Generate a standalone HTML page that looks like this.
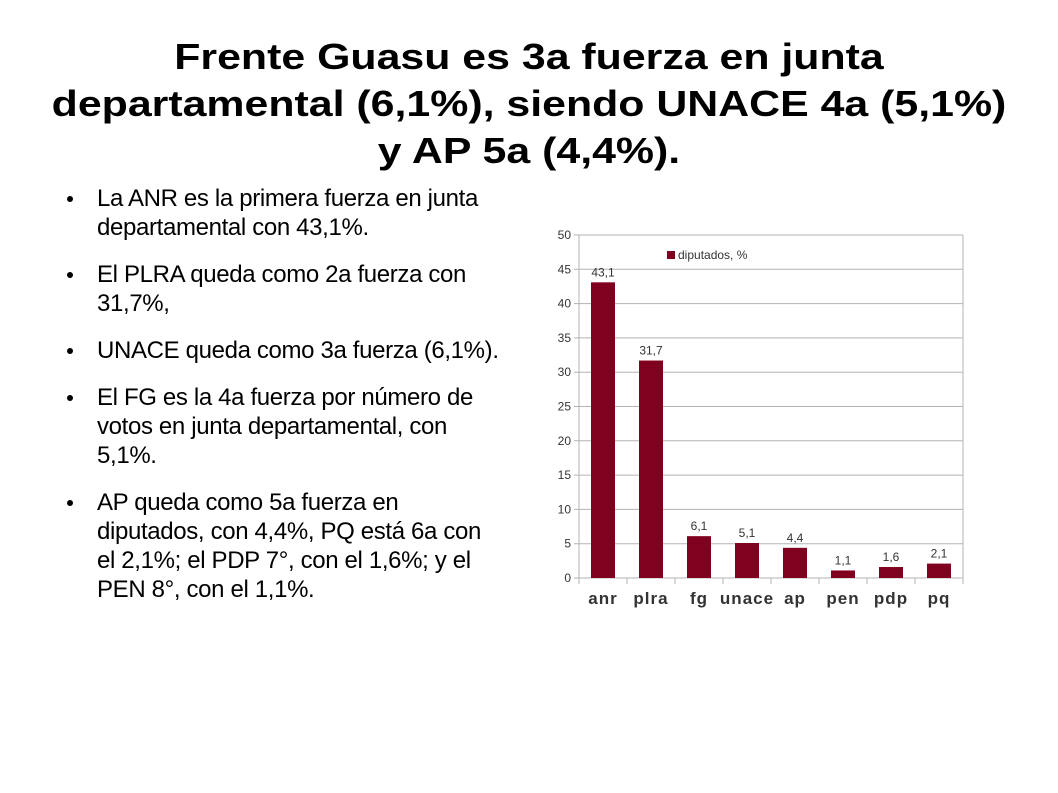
<!DOCTYPE html>
<html><head><meta charset="utf-8"><style>
body{margin:0;width:1058px;height:793px;background:#fff;font-family:"Liberation Sans",sans-serif;overflow:hidden;position:relative}
#title{position:absolute;left:0;top:33px;width:1058px;text-align:center;font-weight:bold;font-size:36px;line-height:47px;color:#000;transform:scaleX(1.19);transform-origin:529px 0}
ul{position:absolute;left:60px;top:184px;width:440px;margin:0;padding:0;list-style:none;font-size:24px;letter-spacing:-0.35px;line-height:29px}
li{position:relative;padding-left:37px;margin-bottom:18px}
li:before{content:"";position:absolute;left:7px;top:12px;width:6px;height:6px;border-radius:50%;background:#000}
svg{position:absolute;left:0;top:0}
</style></head><body>
<div id="title">Frente Guasu es 3a fuerza en junta<br>departamental (6,1%), siendo UNACE 4a (5,1%)<br>y AP 5a (4,4%).</div>
<ul>
<li>La ANR es la primera fuerza en junta departamental con 43,1%.</li>
<li>El PLRA queda como 2a fuerza con 31,7%,</li>
<li>UNACE queda como 3a fuerza (6,1%).</li>
<li>El FG es la 4a fuerza por número de votos en junta departamental, con 5,1%.</li>
<li>AP queda como 5a fuerza en diputados, con 4,4%, PQ está 6a con el 2,1%; el PDP 7°, con el 1,6%; y el PEN 8°, con el 1,1%.</li>
</ul>
<svg id="chart" width="1058" height="793"></svg>
<script>
const categories=["anr","plra","fg","unace","ap","pen","pdp","pq"];
const values=[43.1,31.7,6.1,5.1,4.4,1.1,1.6,2.1];
const valueLabels=["43,1","31,7","6,1","5,1","4,4","1,1","1,6","2,1"];
const yTicks=[0,5,10,15,20,25,30,35,40,45,50];
const NS="http://www.w3.org/2000/svg";
const svg=document.getElementById('chart');
const L=579,R=963,T=235,B=578,yMax=50;
const y=v=>B-(v/yMax)*(B-T);
const bw=(R-L)/categories.length;
const x=i=>L+i*bw;
function mk(t,a,txt){const e=document.createElementNS(NS,t);for(const k in a)e.setAttribute(k,a[k]);if(txt!==undefined)e.textContent=txt;svg.appendChild(e);return e;}
yTicks.forEach(t=>{
 const g=mk('line',{x1:L-5,x2:R,y1:y(t),y2:y(t),stroke:'#b3b3b3','stroke-width':1});
 
 
 const l=mk('text',{x:L-8,y:y(t)+4,'text-anchor':'end','font-size':12,fill:'#333','font-family':'Liberation Sans'},t);
 
 
});
const ax=mk('line',{x1:L,x2:L,y1:T,y2:B+5,stroke:'#b3b3b3'});


const ax2=mk('line',{x1:R,x2:R,y1:T,y2:B+5,stroke:'#b3b3b3'});


for(let i=0;i<=categories.length;i++){
 const tk=mk('line',{x1:x(i),x2:x(i),y1:B,y2:B+6,stroke:'#b3b3b3'});
 
 
}
categories.forEach((c,i)=>{
 const r=mk('rect',{x:x(i)+12,y:y(values[i]),width:24,height:B-y(values[i]),fill:'#800020'});
 
 
 const v=mk('text',{x:x(i)+24,y:y(values[i])-6,'text-anchor':'middle','font-size':12,fill:'#333','font-family':'Liberation Sans'},valueLabels[i]);
 
 
 const cl=mk('text',{x:x(i)+24,y:B+26,'text-anchor':'middle','font-size':17,'font-weight':'bold','letter-spacing':1,fill:'#333','font-family':'Liberation Sans'},c);
 
 
});
const lg=mk('rect',{x:667,y:251,width:8,height:8,fill:'#800020'});


const lt=mk('text',{x:678,y:259,'font-size':12,fill:'#333','font-family':'Liberation Sans'},'diputados, %');


</script>
</body></html>
